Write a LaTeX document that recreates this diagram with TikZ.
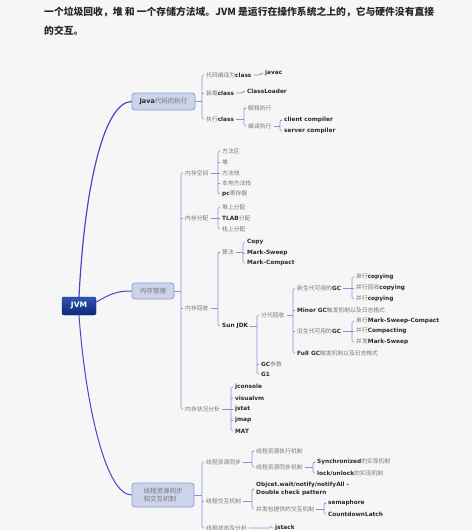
\documentclass[tikz,border=0pt]{standalone}
\usepackage{fontspec}
\setmainfont{DejaVu Sans}
\newfontfamily\cjk{Noto Sans CJK SC}
\usetikzlibrary{calc}
\definecolor{bg}{HTML}{F6F6F6}
\definecolor{ink}{HTML}{2A2A2A}
\definecolor{zhgray}{HTML}{777777}
\definecolor{twigblue}{HTML}{8B8EDC}
\definecolor{trunkblue}{HTML}{4848C6}
\definecolor{topicfill}{HTML}{CBD4EA}
\definecolor{topicline}{HTML}{8E9AD8}
\definecolor{jvmtop}{HTML}{3354AE}
\definecolor{jvmbottom}{HTML}{0B2A7A}
% grey chinese part of a label
\newcommand{\zh}[1]{{\cjk\mdseries\color{zhgray}#1}}
% bracket from a parent to its children: parent, first, last, middle ones
\newcommand{\branchfork}[4]{%
  \draw[twig] (#2.west) -| ($(#3.west)+(-2pt,0)$) -- (#3.west);
  \draw[twig] (#1.east) -- ($(#1.east -| #2.west)+(-2pt,0)$);
  \foreach \k in {#4} {\draw[twig] (\k.west) -- ++(-2pt,0);}}
% hook to a single child
\newcommand{\twiglink}[2]{%
  \draw[twig] (#1.east) -| ($(#2.west)+(-2pt,0)$) -- (#2.west);}
\tikzset{
%Define connector styles
trunk/.style={trunkblue, line width=1pt},
twig/.style={twigblue, line width=0.6pt, rounded corners=1.5pt},
%Define node styles
intro/.style={anchor=west, inner sep=0pt, text=black!85, font=\cjk\bfseries\fontsize{9.8}{12}\selectfont},
leaf/.style={anchor=west, inner xsep=2pt, inner ysep=1pt, text=ink, font=\fontsize{5.8}{7}\selectfont\bfseries},
topic/.style={draw=topicline, fill=topicfill, line width=0.8pt, rounded corners=3pt, text=ink, font=\fontsize{6.5}{8.5}\selectfont\bfseries},
root/.style={draw=jvmbottom, top color=jvmtop, bottom color=jvmbottom, rounded corners=2pt, text=white, font=\fontsize{7.5}{9}\selectfont\bfseries, minimum width=34pt, minimum height=18pt},
}

\begin{document}
\begin{tikzpicture}[x=1pt, y=-1pt]
    % Page
    \fill[bg] (0,0) rectangle (472,530);
    \useasboundingbox (0,0) rectangle (472,530);
    \clip (0,0) rectangle (472,530);
    \node[intro] (line1) at (44,12) {一个垃圾回收，堆 和 一个存储方法域。JVM 是运行在操作系统之上的，它与硬件没有直接};
    \node[intro] (line2) at (44,31) {的交互。};
    % Root and main topics
    \node[root] (jvm) at (79,306) {JVM};
    \node[topic, minimum width=63pt, minimum height=17pt] (java) at (163.5,101.5) {Java\zh{代码的执行}};
    \node[topic, minimum width=42pt, minimum height=16pt] (mem) at (153,291) {\zh{内存管理}};
    \node[topic, minimum width=62pt, minimum height=24pt, align=left] (thr) at (163,495) {\zh{线程资源同步}\\\zh{和交互机制}};
    \draw[trunk, line width=1.2pt] (jvm.north) .. controls (85,180) and (105,102) .. (java.west);
    \draw[trunk] ([yshift=4pt]jvm.east) .. controls (112,293) and (118,291) .. (mem.west);
    \draw[trunk] (jvm.south) .. controls (85,400) and (105,495) .. (thr.west);
    % Java code execution
    \node[leaf] (compile) at (204,75) {\zh{代码编译为}class};
    \node[leaf] (load) at (204,93) {\zh{装载}class};
    \node[leaf] (run) at (204,119) {\zh{执行}class};
    \node[leaf] (javac) at (263,73) {javac};
    \node[leaf] (loader) at (245,91) {ClassLoader};
    \node[leaf] (interp) at (246,108) {\zh{解释执行}};
    \node[leaf] (jit) at (246,126) {\zh{编译执行}};
    \node[leaf] (client) at (282,120) {client compiler};
    \node[leaf] (server) at (282,131) {server compiler};
    \branchfork{java}{compile}{run}{load}
    \twiglink{compile}{javac}
    \twiglink{load}{loader}
    \branchfork{run}{interp}{jit}{interp}
    \branchfork{jit}{client}{server}{client}
    % Memory management
    \node[leaf] (space) at (183,173) {\zh{内存空间}};
    \node[leaf] (alloc) at (183,218) {\zh{内存分配}};
    \node[leaf] (gc) at (183,308) {\zh{内存回收}};
    \node[leaf] (watch) at (183,409) {\zh{内存状况分析}};
    \node[leaf] (area) at (220,151) {\zh{方法区}};
    \node[leaf] (heap) at (220,162) {\zh{堆}};
    \node[leaf] (stack) at (220,173) {\zh{方法栈}};
    \node[leaf] (nstack) at (220,183) {\zh{本地方法栈}};
    \node[leaf] (pc) at (220,194) {pc\zh{寄存器}};
    \node[leaf] (onheap) at (220,207) {\zh{堆上分配}};
    \node[leaf] (tlab) at (220,218) {TLAB\zh{分配}};
    \node[leaf] (onstack) at (220,229) {\zh{栈上分配}};
    \node[leaf] (algo) at (220,252) {\zh{算法}};
    \node[leaf] (sunjdk) at (220,326) {Sun JDK};
    \node[leaf] (copy) at (245,242) {Copy};
    \node[leaf] (ms) at (245,253) {Mark-Sweep};
    \node[leaf] (mc) at (245,263) {Mark-Compact};
    \node[leaf] (gen) at (259,315) {\zh{分代回收}};
    \node[leaf] (gcopt) at (259,364) {GC\zh{参数}};
    \node[leaf] (gone) at (259,374) {G1};
    \node[leaf] (young) at (295,288) {\zh{新生代可用的}GC};
    \node[leaf] (minor) at (295,310) {Minor GC\zh{触发机制以及日志格式}};
    \node[leaf] (old) at (295,331) {\zh{旧生代可用的}GC};
    \node[leaf] (full) at (295,353) {Full GC\zh{触发机制以及日志格式}};
    \node[leaf] (y1) at (354,277) {\zh{串行}copying};
    \node[leaf] (y2) at (354,288) {\zh{并行回收}copying};
    \node[leaf] (y3) at (354,299) {\zh{并行}copying};
    \node[leaf] (o1) at (354,321) {\zh{串行}Mark-Sweep-Compact};
    \node[leaf] (o2) at (354,331) {\zh{并行}Compacting};
    \node[leaf] (o3) at (354,342) {\zh{并发}Mark-Sweep};
    \node[leaf] (jc) at (233,387) {jconsole};
    \node[leaf] (vvm) at (233,398) {visualvm};
    \node[leaf] (jstat) at (233,409) {jstat};
    \node[leaf] (jmap) at (233,420) {jmap};
    \node[leaf] (mat) at (233,431) {MAT};
    \branchfork{mem}{space}{watch}{alloc,gc}
    \branchfork{space}{area}{pc}{heap,stack,nstack}
    \branchfork{alloc}{onheap}{onstack}{tlab}
    \branchfork{gc}{algo}{sunjdk}{algo}
    \branchfork{algo}{copy}{mc}{ms}
    \branchfork{sunjdk}{gen}{gone}{gcopt}
    \branchfork{gen}{young}{full}{minor,old}
    \branchfork{young}{y1}{y3}{y2}
    \branchfork{old}{o1}{o3}{o2}
    \branchfork{watch}{jc}{mat}{vvm,jstat,jmap}
    % Thread sync and interaction
    \node[leaf] (sync) at (204,462) {\zh{线程资源同步}};
    \node[leaf] (talk) at (204,501) {\zh{线程交互机制}};
    \node[leaf] (state) at (204,528) {\zh{线程状态及分析}};
    \node[leaf] (exec) at (254,451) {\zh{线程资源执行机制}};
    \node[leaf] (lockm) at (254,467) {\zh{线程资源同步机制}};
    \node[leaf] (syn) at (315,462) {Synchronized\zh{的实现机制}};
    \node[leaf] (lock) at (315,473) {lock/unlock\zh{的实现机制}};
    \node[leaf, align=left, font=\fontsize{5.8}{8.5}\selectfont\bfseries] (wait) at (254,489) {Objcet.wait/notify/notifyAll -\\Double check pattern};
    \node[leaf] (juc) at (254,509) {\zh{并发包提供的交互机制}};
    \node[leaf] (sema) at (326,503) {semaphore};
    \node[leaf] (latch) at (326,514) {CountdownLatch};
    \node[leaf] (jstack) at (273,528) {jstack};
    \branchfork{thr}{sync}{state}{talk}
    \branchfork{sync}{exec}{lockm}{exec}
    \branchfork{lockm}{syn}{lock}{syn}
    \branchfork{talk}{wait}{juc}{wait}
    \branchfork{juc}{sema}{latch}{sema}
    \twiglink{state}{jstack}
\end{tikzpicture}
\end{document}
